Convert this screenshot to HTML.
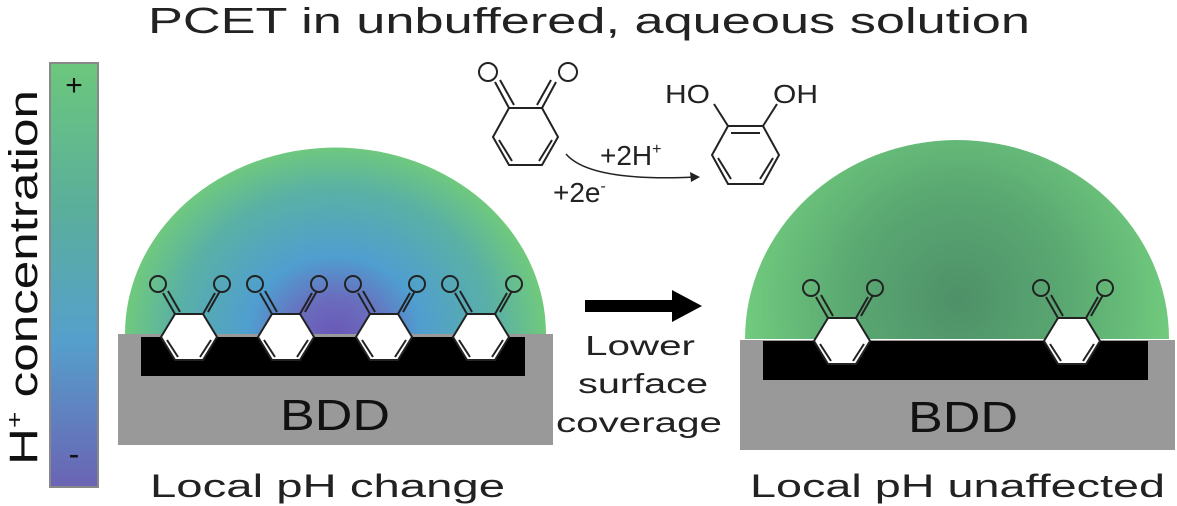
<!DOCTYPE html>
<html><head><meta charset="utf-8"><style>
html,body{margin:0;padding:0;background:#fff;width:1177px;height:506px;overflow:hidden}
svg text{font-family:"Liberation Sans",sans-serif}
</style></head><body>
<svg width="1177" height="506" viewBox="0 0 1177 506" xmlns="http://www.w3.org/2000/svg">
<defs>
<linearGradient id="cb" x1="0" y1="0" x2="0" y2="1">
<stop offset="0" stop-color="#6cc77c"/><stop offset="0.35" stop-color="#5aae9c"/><stop offset="0.65" stop-color="#55a0cc"/><stop offset="1" stop-color="#6a64b4"/>
</linearGradient>
<radialGradient id="d1" cx="335" cy="334" r="215" gradientUnits="userSpaceOnUse" gradientTransform="translate(335 334) scale(1 0.9) translate(-335 -334)">
<stop offset="0" stop-color="#6a58b8"/><stop offset="0.18" stop-color="#6a6cbd"/><stop offset="0.4" stop-color="#4f9ed0"/><stop offset="0.75" stop-color="#5ab1a4"/><stop offset="1" stop-color="#72cc78"/>
</radialGradient>
<radialGradient id="d2" cx="958" cy="300" r="220" gradientUnits="userSpaceOnUse">
<stop offset="0" stop-color="#4e9068"/><stop offset="0.5" stop-color="#5aa872"/><stop offset="1" stop-color="#72cd7e"/>
</radialGradient>
<g id="q" fill="none" stroke="#222" stroke-width="2">
<polygon points="-28,0 -14,-23 14,-23 28,0 14,23 -14,23" fill="#fff"/>
<line x1="-22" y1="3" x2="-11" y2="20"/><line x1="22" y1="3" x2="11" y2="20"/>
<line x1="-14" y1="-23" x2="-26" y2="-44"/><line x1="-9" y1="-25" x2="-21" y2="-46"/>
<line x1="14" y1="-23" x2="26" y2="-44"/><line x1="19" y1="-25" x2="31" y2="-46"/>
<circle cx="-31" cy="-53" r="8"/><circle cx="33" cy="-53" r="8"/>
</g>
</defs>
<text x="148" y="33" font-size="36" textLength="882" lengthAdjust="spacingAndGlyphs" fill="#222">PCET in unbuffered, aqueous solution</text>
<!-- colorbar -->
<rect x="50" y="63" width="48" height="424" fill="url(#cb)" stroke="#888" stroke-width="2"/>
<text x="74" y="95" font-size="30" text-anchor="middle" fill="#111">+</text>
<text x="74" y="465" font-size="32" text-anchor="middle" fill="#111">-</text>
<text transform="translate(37 465) rotate(-90)" font-size="40" textLength="375" lengthAdjust="spacingAndGlyphs" fill="#111">H<tspan font-size="22" dy="-15">+</tspan><tspan dy="15"> concentration</tspan></text>
<!-- left -->
<path d="M125,334 A210,186 0 0 1 546,334 Z" fill="url(#d1)"/>
<rect x="118" y="334" width="435" height="111" fill="#999"/>
<rect x="141" y="337" width="384" height="39" fill="#000"/>
<use href="#q" x="189" y="337"/><use href="#q" x="286" y="337"/><use href="#q" x="384" y="337"/><use href="#q" x="481" y="337"/>
<text x="280" y="430" font-size="44" textLength="110" lengthAdjust="spacingAndGlyphs" fill="#111">BDD</text>
<text x="150" y="497" font-size="32" textLength="355" lengthAdjust="spacingAndGlyphs" fill="#222">Local pH change</text>
<!-- right -->
<path d="M745,339 A212,199 0 0 1 1169,339 Z" fill="url(#d2)"/>
<rect x="740" y="340" width="435" height="110" fill="#999"/>
<rect x="763" y="341" width="385" height="39" fill="#000"/>
<use href="#q" x="842" y="341"/><use href="#q" x="1072" y="341"/>
<text x="908" y="432" font-size="44" textLength="110" lengthAdjust="spacingAndGlyphs" fill="#111">BDD</text>
<text x="750" y="497" font-size="32" textLength="415" lengthAdjust="spacingAndGlyphs" fill="#222">Local pH unaffected</text>
<!-- middle arrow -->
<rect x="585" y="300" width="90" height="12" fill="#000"/>
<polygon points="672,290 702,306 672,322" fill="#000"/>
<text x="585" y="355" font-size="28" textLength="110" lengthAdjust="spacingAndGlyphs" fill="#222">Lower</text>
<text x="578" y="393" font-size="28" textLength="130" lengthAdjust="spacingAndGlyphs" fill="#222">surface</text>
<text x="556" y="432" font-size="28" textLength="166" lengthAdjust="spacingAndGlyphs" fill="#222">coverage</text>
<!-- top reaction -->
<g fill="none" stroke="#222" stroke-width="2">
<polygon points="493,137 509,108 542,108 558,137 542,165 509,165"/>
<line x1="499" y1="140" x2="512" y2="161"/><line x1="552" y1="140" x2="539" y2="161"/>
<line x1="509" y1="108" x2="495" y2="82"/><line x1="514" y1="105" x2="500" y2="80"/>
<line x1="542" y1="108" x2="556" y2="82"/><line x1="537" y1="105" x2="551" y2="80"/>
<circle cx="488" cy="72" r="9"/><circle cx="568" cy="72" r="9"/>
<polygon points="712,155 728,126 763,126 779,155 763,184 728,184"/>
<line x1="731" y1="133" x2="760" y2="133"/><line x1="718" y1="158" x2="731" y2="179"/><line x1="773" y1="158" x2="760" y2="179"/>
<line x1="728" y1="126" x2="714" y2="104"/><line x1="763" y1="126" x2="777" y2="104"/>
<path d="M566,154 Q590,182 695,177" stroke-width="1.5"/>
</g>
<polygon points="700,177 690,172 691,182" fill="#222"/>
<text x="665" y="103" font-size="26" textLength="45" lengthAdjust="spacingAndGlyphs" fill="#222">HO</text>
<text x="773" y="103" font-size="26" textLength="45" lengthAdjust="spacingAndGlyphs" fill="#222">OH</text>
<text x="600" y="165" font-size="28" fill="#222">+2H<tspan font-size="16" dy="-11">+</tspan></text>
<text x="553" y="202" font-size="28" fill="#222">+2e<tspan font-size="16" dy="-11">-</tspan></text>
</svg>
</body></html>
